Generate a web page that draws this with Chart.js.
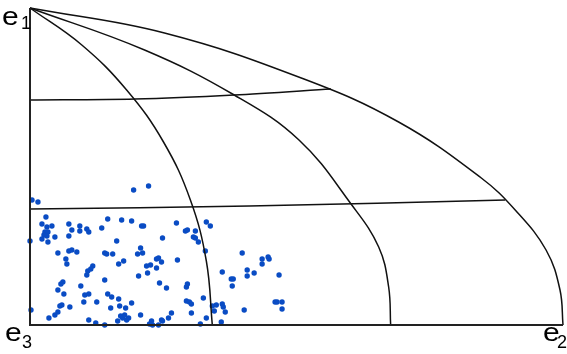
<!DOCTYPE html>
<html>
<head>
<meta charset="utf-8">
<script src="https://cdn.jsdelivr.net/npm/chart.js@4"></script>
<style>
  html, body { margin: 0; padding: 0; background: #fff; }
  #wrap { width: 567px; height: 354px; }
</style>
</head>
<body>
<div id="wrap"><canvas id="chart" width="567" height="354"></canvas></div>
<script>
// scatter points (x from e3 towards e2, y from e3 towards e1)
const pointsX = [104, 119, 2, 8, 16, 12, 17, 22, 39, 50, 50, 42, 57, 59, 72, 78, 92, 102, 112, 114,
  15, 18, 14, 17, 12, 18, 0, 25, 39, 87, 133, 28, 39, 42, 47, 75, 77, 83, 108, 111,
  113, 127, 129, 36, 94, 132, 37, 63, 61, 58, 57, 89, 117, 121, 127, 109, 118, 33, 31, 28,
  51, 75, 34, 55, 59, 54, 67, 78, 82, 89, 130, 137, 32, 30, 40, 1, 28, 25, 19, 81,
  90, 96, 102, 111, 91, 93, 97, 88, 99, 95, 59, 66, 75, 122, 123, 129, 132, 139, 147, 177,
  181, 156, 158, 166, 164, 166, 169, 176, 213, 148, 233, 239, 240, 233, 193, 218, 225, 218, 202, 204,
  203, 250, 157, 158, 157, 160, 162, 174, 187, 193, 194, 183, 185, 196, 215, 246, 248, 253, 253, 162,
  177, 192, 171, 142, 133, 120];
const pointsY = [135, 139, 125, 123, 108, 101, 98, 99, 101, 99, 94, 95, 96, 93, 97, 106, 105, 104, 99, 99,
  93, 93, 90, 89, 86, 83, 84, 88, 89, 84, 87, 72, 74, 75, 73, 72, 71, 71, 71, 77,
  72, 66, 67, 66, 64, 63, 61, 59, 56, 54, 50, 61, 59, 60, 57, 49, 52, 43, 41, 35,
  39, 45, 31, 30, 31, 23, 23, 31, 28, 26, 42, 37, 20, 19, 18, 15, 13, 10, 7, 17,
  19, 17, 22, 10, 9, 7, 5, 4, 7, 10, 5, 2, 0, 4, 0, 0, 5, 7, 102, 103,
  99, 94, 95, 94, 88, 87, 83, 74, 72, 65, 66, 68, 66, 61, 53, 55, 52, 49, 46, 46,
  39, 50, 38, 41, 24, 23, 21, 27, 20, 21, 18, 19, 14, 13, 15, 23, 23, 23, 16, 12,
  7, 3, 1, 12, 4, 1];

// grid curves
const outerArc = [[0, 317], [135, 292], [275, 246], [370, 203], [453, 147], [487, 115],
  [518, 75], [532, 35], [535, 0]];
const middleArc = [[0, 317], [115, 275], [205, 230], [270, 185], [323, 120], [350, 78],
  [360, 38], [362, 0]];
const innerArc = [[0, 317], [52, 280], [97, 235], [134, 183], [161, 125], [177, 64], [183, 0]];
const upperCut = [[0, 225], [105, 226], [205, 230], [302, 236]];
const lowerCut = [[0, 116], [220, 119], [477, 125]];
const frame = [[0, 317], [0, 0], [535, 0]];

const toXY = (arr) => arr.map((p) => ({ x: p[0], y: p[1] }));

function curve(data, width, color, tension) {
  return {
    data: toXY(data),
    showLine: true,
    borderColor: color,
    borderWidth: width,
    pointRadius: 0,
    tension: tension,
    fill: false,
    clip: false,
  };
}

// corner labels e1, e2, e3
const cornerLabels = {
  id: "cornerLabels",
  afterDraw(chart) {
    const ctx = chart.ctx;
    const put = (txt, x, y, size, sx) => {
      ctx.save();
      ctx.translate(x, y);
      ctx.scale(sx, 1);
      ctx.font = size + "px 'Liberation Sans', Arial, sans-serif";
      ctx.fillStyle = "#000";
      ctx.textBaseline = "alphabetic";
      ctx.fillText(txt, 0, 0);
      ctx.restore();
    };
    put("e", 2, 25, 25, 1.2);
    put("1", 21, 29, 19, 0.95);
    put("e", 5, 341, 25, 1.2);
    put("3", 22, 348, 19, 0.95);
    put("e", 543, 341, 25, 1.2);
    put("2", 557, 348, 19, 0.95);
  },
};

new Chart(document.getElementById("chart"), {
  type: "scatter",
  data: {
    datasets: [
      curve(frame, 2, "#222", 0),
      curve(outerArc, 1.5, "#111", 0.4),
      curve(middleArc, 1.5, "#111", 0.4),
      curve(innerArc, 1.5, "#111", 0.4),
      curve(upperCut, 1.5, "#111", 0.3),
      curve(lowerCut, 1.5, "#111", 0.3),
      {
        data: pointsX.map((x, i) => ({ x: x, y: pointsY[i] })),
        backgroundColor: "#0a4cc4",
        borderColor: "#0a4cc4",
        borderWidth: 0,
        pointRadius: 2.7,
        clip: false,
      },
    ],
  },
  options: {
    responsive: false,
    animation: false,
    devicePixelRatio: 1,
    layout: { padding: { left: 30, right: 2, top: 8, bottom: 29 } },
    scales: {
      x: { type: "linear", min: 0, max: 535, display: false },
      y: { type: "linear", min: 0, max: 317, display: false },
    },
    plugins: { legend: { display: false }, tooltip: { enabled: false } },
  },
  plugins: [cornerLabels],
});
</script>
</body>
</html>
